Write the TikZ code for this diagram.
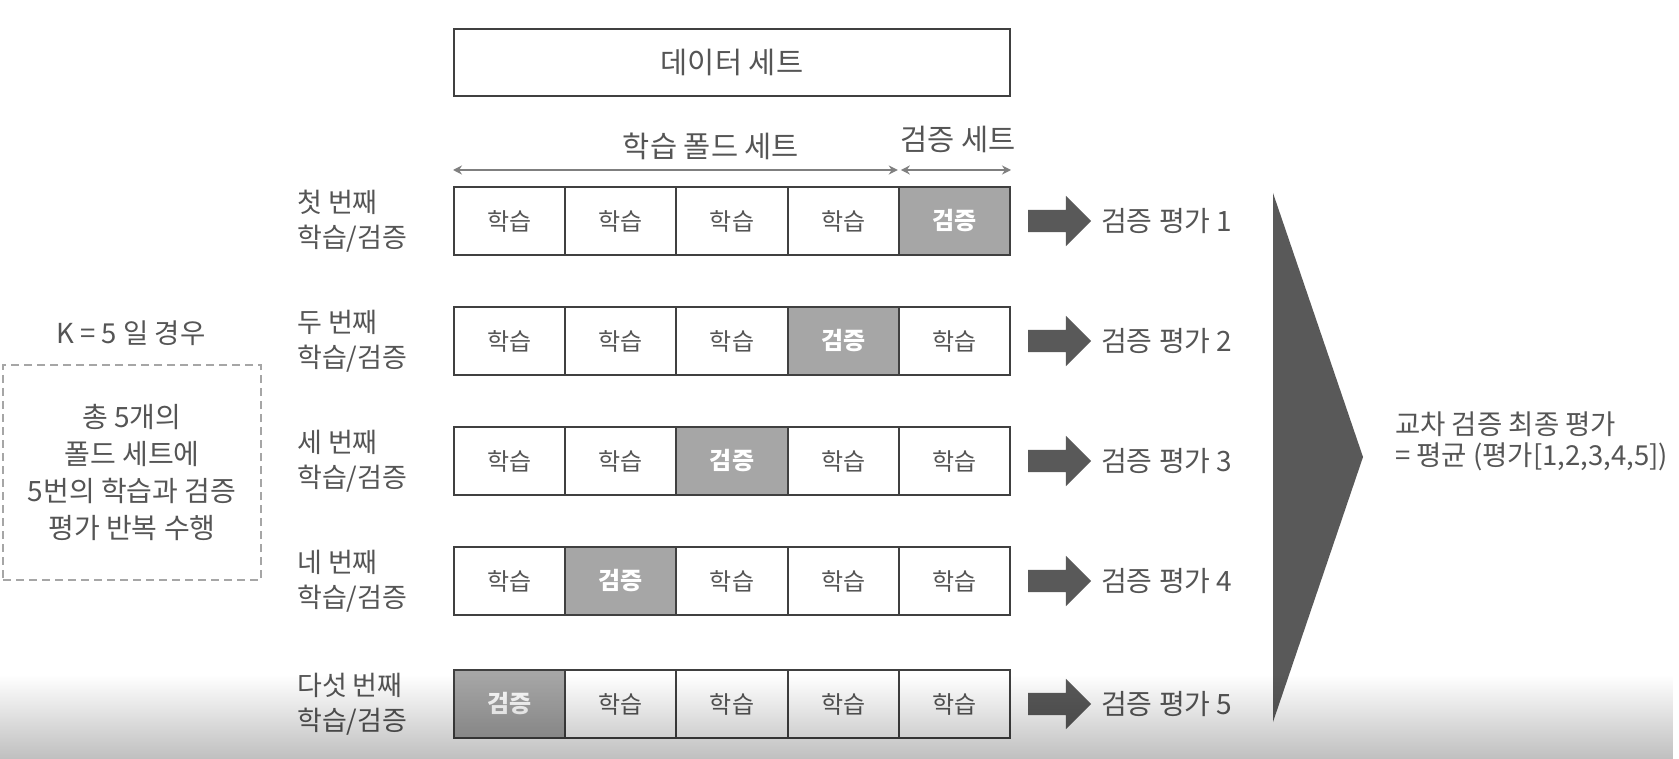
\documentclass[tikz,border=0pt]{standalone}
\usepackage{fontspec}
\setmainfont{Noto Sans CJK KR}
\usetikzlibrary{arrows.meta,fadings,shapes.arrows}
\definecolor{txt}{HTML}{555555}
\definecolor{edge}{HTML}{404040}
\definecolor{valfill}{HTML}{A6A6A6}
\definecolor{darkfill}{HTML}{595959}
\definecolor{spanline}{HTML}{7F7F7F}
\definecolor{dashcol}{HTML}{A6A6A6}
\begin{document}
\begin{tikzpicture}[x=1pt,y=-1pt,
  cell/.style={draw=edge, line width=2pt, minimum width=111.2pt, minimum height=68pt,
    inner sep=0pt, font=\fontsize{24}{28}\selectfont, text=txt, fill=white},
  valcell/.style={cell, fill=valfill, text=white, font=\fontsize{24}{28}\selectfont\bfseries},
  rowlabel/.style={anchor=west, align=left, text=txt, font=\fontsize{27}{35}\selectfont, inner sep=0pt},
  evallabel/.style={anchor=west, text=txt, font=\fontsize{28}{32}\selectfont, inner sep=0pt},
  blockarrow/.style={single arrow, fill=darkfill, draw=none, minimum height=63pt,
    single arrow head extend=14pt, inner sep=11pt, single arrow tip angle=90},
  spanarrow/.style={draw=spanline, line width=2pt, {Stealth[length=9pt,width=9pt]}-{Stealth[length=9pt,width=9pt]}},
  title/.style={text=txt, font=\fontsize{29.5}{34}\selectfont, inner sep=0pt}]
\useasboundingbox (0,0) rectangle (1679,759);
\fill[white] (0,0) rectangle (1679,759);

% data set
\node[draw=edge, line width=2pt, minimum width=556pt, minimum height=67pt, title] (data) at (732,62.5) {데이터 세트};

% rows
\foreach \r/\y/\lab in {1/221/{첫 번째}, 2/341/{두 번째}, 3/461/{세 번째}, 4/581/{네 번째}, 5/704/{다섯 번째}}{
  \pgfmathtruncatemacro{\v}{6-\r}
  \node[rowlabel] (lab\r) at (297,\y) {\lab\\학습/검증};
  \foreach \c in {1,...,5}{
    \pgfmathsetmacro{\xc}{454+111.2*(\c-0.5)}
    \ifnum\c=\v
      \node[valcell] (r\r c\c) at (\xc,\y) {검증};
    \else
      \node[cell] (r\r c\c) at (\xc,\y) {학습};
    \fi
  }
  \node[blockarrow] (a\r) at (1054,\y) {};
  \node[evallabel] (e\r) at (1101,\y) {검증 평가 \r};
}

% spans above first row
\coordinate (s1) at ([yshift=16pt]r1c1.north west);
\coordinate (s2) at ([yshift=16pt,xshift=-2pt]r1c4.north east);
\coordinate (s3) at ([yshift=16pt,xshift=3pt]r1c5.north west);
\coordinate (s4) at ([yshift=16pt]r1c5.north east);
\draw[spanarrow] (s1) -- (s2);
\draw[spanarrow] (s3) -- (s4);
\node[title] (trainlab) at (711,146) {학습 폴드 세트};
\node[title] (vallab) at (958,139) {검증 세트};

% big triangle
\coordinate (t1) at (1273,193);
\coordinate (t2) at (1363,457);
\coordinate (t3) at (1273,722);
\fill[darkfill] (t1) -- (t2) -- (t3) -- cycle;

\node[anchor=west, align=left, text=txt, font=\fontsize{27.5}{31}\selectfont, inner sep=0pt] (final) at (1395,441)
  {교차 검증 최종 평가\\= 평균 (평가[1,2,3,4,5])};

% left note
\node[text=txt, font=\fontsize{27.5}{30}\selectfont, inner sep=0pt] (kcase) at (131,333) {K = 5 일 경우};
\node[draw=dashcol, dashed, dash pattern=on 8pt off 5pt, line width=2pt, minimum width=258pt, minimum height=215pt,
  align=center, text=txt, font=\fontsize{28}{37}\selectfont] (note) at (132,472.5)
  {총 5개의\\폴드 세트에\\5번의 학습과 검증\\평가 반복 수행};

% bottom overlay band
\fill[black, opacity=0.25, path fading=north] (0,675) rectangle (1679,759);
\end{tikzpicture}
\end{document}
